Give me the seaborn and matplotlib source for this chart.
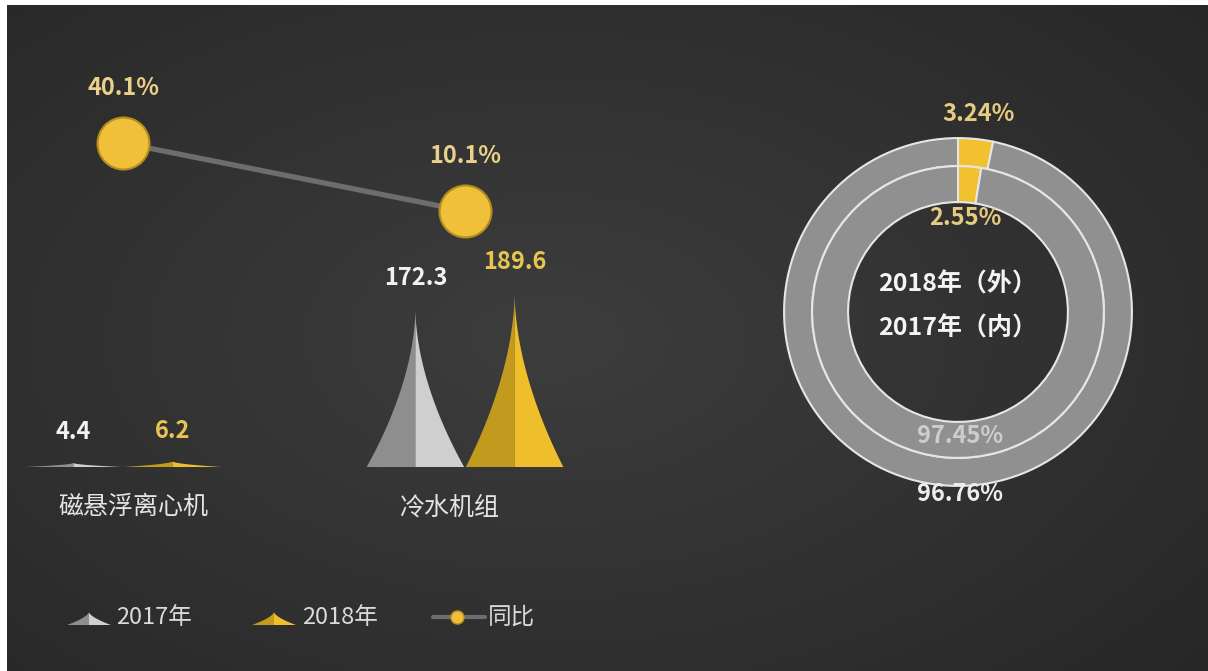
import numpy as np
import matplotlib
matplotlib.use("Agg")
import matplotlib.pyplot as plt
import seaborn as sns

# ---- data ----
categories = ["磁悬浮离心机", "冷水机组"]
sales_2017 = [4.4, 172.3]
sales_2018 = [6.2, 189.6]
yoy_growth = [40.1, 10.1]          # 同比 (%)
share_2018 = [3.24, 96.76]         # outer ring
share_2017 = [2.55, 97.45]         # inner ring
legend_labels = ["2017年", "2018年", "同比"]
ring_title = ["2018年（外）", "2017年（内）"]

sns.set_theme(style="white")
plt.rcParams["font.family"] = ["Noto Sans CJK SC", "DejaVu Sans"]

W, H = 1208, 671
fig = plt.figure(figsize=(W / 100, H / 100), dpi=100)
fig.patch.set_facecolor("white")


def box(x0, y0, x1, y1):
    """pixel box (origin top-left) -> figure-fraction rect"""
    return [x0 / W, 1 - y1 / H, (x1 - x0) / W, (y1 - y0) / H]


# ---- dark vignette background ----
bg = fig.add_axes(box(7, 5, W, H))
yy, xx = np.mgrid[0:1:300j, 0:1:540j]
r = np.clip(np.sqrt(((xx - 0.45) / 0.8) ** 2 + ((yy - 0.5) / 0.85) ** 2), 0, 1)
c_in = np.array([0x3d, 0x3d, 0x3d]) / 255
c_out = np.array([0x25, 0x25, 0x25]) / 255
img = c_in[None, None, :] * (1 - r[..., None]) + c_out[None, None, :] * r[..., None]
bg.imshow(img, extent=[0, 1, 0, 1], aspect="auto", interpolation="bilinear")
bg.set_axis_off()


def spike(ax, xc, width, height, c_left, c_right, base=0.0, z=3, k=1.8):
    """two-tone concave spike standing on y=base"""
    t = np.linspace(0, 1, 120)
    hw = 0.5 * width * (1 - t) ** k
    y = base + t * height
    ax.fill(np.r_[xc - hw, xc], np.r_[y, base], color=c_left, lw=0, zorder=z)
    ax.fill(np.r_[xc + hw, xc], np.r_[y, base], color=c_right, lw=0, zorder=z)


GRAY_L, GRAY_R = "#8e8e8e", "#cfcfcf"
GOLD_L, GOLD_R = "#c29a1e", "#efbe2b"

# ---- spikes: sales by category ----
px_per_cat = 342.0
px_per_val = 0.918
ax = fig.add_axes(box(0, 60, 600, 467))
ax.set_xlim(-123 / px_per_cat, 477 / px_per_cat)
ax.set_ylim(0, 407 / px_per_val)
ax.set_axis_off()
ax.patch.set_alpha(0)

offset, width = 0.145, 0.285
x = np.arange(len(categories))
for i, (v17, v18) in enumerate(zip(sales_2017, sales_2018)):
    spike(ax, x[i] - offset, width, v17, GRAY_L, GRAY_R)
    spike(ax, x[i] + offset, width, v18, GOLD_L, GOLD_R)
    ax.annotate(f"{v17}", (x[i] - offset, v17), xytext=(0, 22), textcoords="offset points",
                ha="center", va="center", fontsize=17, fontweight="bold", color="#f2f2f2")
    ax.annotate(f"{v18}", (x[i] + offset, v18), xytext=(0, 22), textcoords="offset points",
                ha="center", va="center", fontsize=17, fontweight="bold", color="#e8c552")

cat_dx = [7.5, -11.5]
for i, name in enumerate(categories):
    ax.annotate(name, (x[i], 0), xytext=(cat_dx[i], -29), textcoords="offset points",
                ha="center", va="center", fontsize=18, fontweight="medium", color="#e4e4e4")

# ---- 同比 line with bubbles ----
ax2 = ax.twinx()
ax2.set_ylim(-102.8, 76.7)
ax2.set_axis_off()
sns.lineplot(x=x, y=yoy_growth, ax=ax2, color="#6d6d6d", linewidth=3.8, zorder=2)
sns.scatterplot(x=x, y=yoy_growth, ax=ax2, s=1400, color="#f1c03a",
                edgecolor="#b38c1c", linewidth=1.5, zorder=4)
for i, v in enumerate(yoy_growth):
    ax2.annotate(f"{v}%", (x[i], v), xytext=(0, 39.5), textcoords="offset points",
                 ha="center", va="center", fontsize=17, fontweight="bold", color="#ead08a")

# ---- double donut ----
R_OUT, R_MID, R_IN = 1.0, 0.839, 0.632
dax = fig.add_axes(box(958 - 200, 312 - 200, 958 + 200, 312 + 200))
dax.set_aspect("equal")
dax.set_axis_off()
dax.patch.set_alpha(0)
ring_colors = ["#f1c12f", "#909090"]
wp = dict(edgecolor="#e6e6e6", linewidth=1.5)
dax.pie(share_2018, radius=R_OUT, colors=ring_colors, startangle=90, counterclock=False,
        wedgeprops=dict(width=R_OUT - R_MID, **wp))
dax.pie(share_2017, radius=R_MID, colors=ring_colors, startangle=90, counterclock=False,
        wedgeprops=dict(width=R_MID - R_IN, **wp))
dax.set_xlim(-1.15, 1.15)
dax.set_ylim(-1.15, 1.15)

ang18 = np.deg2rad(90 - share_2018[0] * 3.6 / 2)
ang17 = np.deg2rad(90 - share_2017[0] * 3.6 / 2)
dax.text(1.15 * np.cos(ang18), 1.145 * np.sin(ang18), f"{share_2018[0]}%", ha="center", va="center",
         fontsize=17, fontweight="bold", color="#e6cc80")
dax.text(0.54 * np.cos(ang17), 0.54 * np.sin(ang17), f"{share_2017[0]}%", ha="center", va="center",
         fontsize=17, fontweight="bold", color="#e6cc80")
dax.text(0.01, -0.713, f"{share_2017[1]}%", ha="center", va="center",
         fontsize=17, fontweight="bold", color="#d4d4d4", alpha=0.9)
dax.text(0.01, -1.046, f"{share_2018[1]}%", ha="center", va="center",
         fontsize=17, fontweight="bold", color="#ededed")
dax.text(0, 0.161, ring_title[0], ha="center", va="center",
         fontsize=18, fontweight="bold", color="#f4f4f4")
dax.text(0, -0.092, ring_title[1], ha="center", va="center",
         fontsize=18, fontweight="bold", color="#f4f4f4")

# ---- legend ----
lg = fig.add_axes([0, 0, 1, 1])
lg.set_xlim(0, W)
lg.set_ylim(H, 0)
lg.set_axis_off()
lg.patch.set_alpha(0)
spike(lg, 89, 44, -13, GRAY_L, GRAY_R, base=625, k=1.6)
spike(lg, 274, 44, -13, GOLD_L, GOLD_R, base=625, k=1.6)
lg.plot([433, 485], [617, 617], color="#6d6d6d", lw=3)
lg.scatter([457], [617], s=90, color="#f1c03a", edgecolor="#b38c1c", linewidth=1, zorder=5)
for xt, lab in zip([116, 302, 488], legend_labels):
    lg.text(xt, 617, lab, ha="left", va="center", fontsize=17, color="#dadada")

fig.savefig("out.png", dpi=100, facecolor=fig.get_facecolor())
